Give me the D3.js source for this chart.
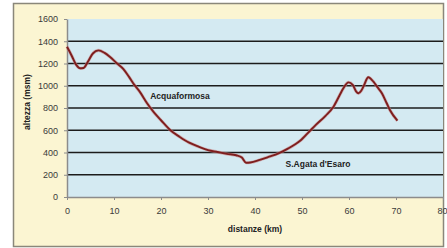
<!DOCTYPE html>
<html><head><meta charset="utf-8">
<script src="https://cdn.jsdelivr.net/npm/d3@7"></script>
<style>html,body{margin:0;padding:0;background:#fff;}svg{display:block;}</style>
</head><body>
<script>
const distanceKm = [0,1,2,2.8,3.5,4.5,5.5,6.7,8,9.1,10.6,12,13.2,14.3,15.5,17,18.5,20,22,24,26,28,30,32,34,36,37.2,38.1,39,41,43,45,47,49.6,51.7,53,55,56.7,58,58.8,59.9,60.8,61.5,62,62.6,63.1,64.1,65.2,66,67,68,68.7,70.3];
const altitudeM = [1350,1270,1185,1157,1160,1220,1290,1318,1295,1261,1202,1150,1080,1010,945,845,760,690,600,540,488,452,422,405,388,375,355,308,310,333,362,393,435,505,595,650,730,812,915,977,1030,1007,950,932,955,995,1076,1036,990,932,845,782,686];
const xTicks = [0,10,20,30,40,50,60,70,80];
const yTicks = [0,200,400,600,800,1000,1200,1400,1600];
const labels = [{text:"Acquaformosa", km:17.7, m:910},{text:"S.Agata d'Esaro", km:46.5, m:295}];

const W=447,H=248;
const svg=d3.select("body").append("svg").attr("width",W).attr("height",H);
svg.append("rect").attr("x",0).attr("y",0).attr("width",W).attr("height",H).attr("fill","#ffffff");
svg.append("rect").attr("x",13.5).attr("y",3.5).attr("width",430).attr("height",243)
  .attr("fill","#fbf5d2").attr("stroke","#8a877a").attr("stroke-width",1.5);

const x=d3.scaleLinear().domain([0,80]).range([67,443]);
const y=d3.scaleLinear().domain([0,1600]).range([197,19]);

svg.append("rect").attr("x",x(0)).attr("y",y(1600)).attr("width",x(80)-x(0)).attr("height",y(0)-y(1600)).attr("fill","#d4eaf2");

svg.append("g").selectAll("line").data(yTicks.filter(v=>v>0&&v<1600)).join("line")
  .attr("x1",x(0)).attr("x2",x(80)).attr("y1",d=>y(d)).attr("y2",d=>y(d))
  .attr("stroke","#1c1c1c").attr("stroke-width",1.4);

const fmt=d3.format("d");
const xAxis=svg.append("g").attr("transform",`translate(0,${y(0)})`)
  .call(d3.axisBottom(x).tickValues(xTicks).tickFormat(fmt).tickSize(3).tickPadding(8).tickSizeOuter(0));
const yAxis=svg.append("g").attr("transform",`translate(${x(0)},0)`)
  .call(d3.axisLeft(y).tickValues(yTicks).tickFormat(fmt).tickSize(3).tickPadding(6).tickSizeOuter(0));
[xAxis,yAxis].forEach(a=>{
  a.select(".domain").attr("stroke","#8c8c8c").attr("stroke-width",1.5);
  a.selectAll(".tick line").attr("stroke","#8c8c8c");
  a.selectAll("text").attr("font-family","Liberation Sans, Arial, sans-serif").attr("font-size",9).attr("fill","#3a3a3a");
});
xAxis.selectAll(".tick text").filter(d=>d===80).attr("text-anchor","end").attr("dx","4");

const line=d3.line().x((d,i)=>x(distanceKm[i])).y(d=>y(d)).curve(d3.curveMonotoneX);
svg.append("path").datum(altitudeM).attr("d",line).attr("fill","none")
  .attr("stroke","#c98a8a").attr("stroke-width",3.2).attr("opacity",0.6);
svg.append("path").datum(altitudeM).attr("d",line).attr("fill","none")
  .attr("stroke","#7e1e1e").attr("stroke-width",1.9);

svg.append("g").selectAll("text").data(labels).join("text")
  .attr("x",d=>x(d.km)).attr("y",d=>y(d.m)).attr("dy","0.35em")
  .attr("font-family","Liberation Sans, Arial, sans-serif").attr("font-size",8.5).attr("font-weight","bold")
  .attr("fill","#222").text(d=>d.text);

svg.append("text").attr("x",255).attr("y",229).attr("dy","0.35em").attr("text-anchor","middle")
  .attr("font-family","Liberation Sans, Arial, sans-serif").attr("font-size",8.5).attr("font-weight","bold")
  .attr("fill","#222").text("distanze (km)");
svg.append("text").attr("transform","translate(27,102) rotate(-90)").attr("dy","0.35em").attr("text-anchor","middle")
  .attr("font-family","Liberation Sans, Arial, sans-serif").attr("font-size",8.5).attr("font-weight","bold")
  .attr("fill","#222").text("altezza (msm)");
</script>
</body></html>
